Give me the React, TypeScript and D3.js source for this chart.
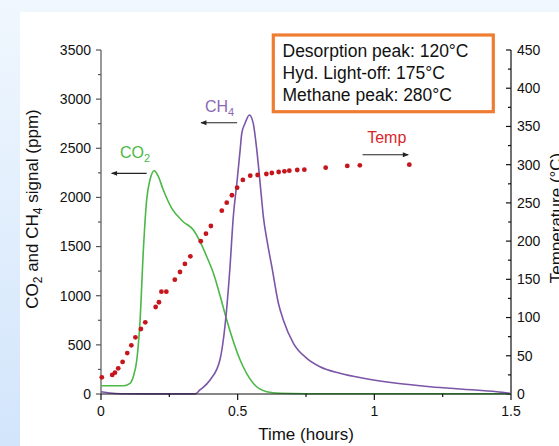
import React from "react";
import * as d3 from "d3";

const W = 559;
const H = 446;

// Time (hours) and CO2 signal (ppm)
const co2Time = [0, 0.082, 0.106, 0.118, 0.131, 0.143, 0.155, 0.167, 0.179, 0.195, 0.21, 0.228, 0.259, 0.301, 0.338, 0.362, 0.387, 0.411, 0.435, 0.46, 0.509, 0.557, 0.606, 0.655, 0.75, 1.0, 1.25, 1.5];
const co2Value = [84, 84, 109, 176, 346, 753, 1465, 1974, 2177, 2272, 2211, 2075, 1889, 1753, 1668, 1552, 1397, 1231, 1007, 753, 346, 109, 23, 7, 3, 2, 2, 2];

// Time (hours) and CH4 signal (ppm)
const ch4Time = [0, 0.033, 0.07, 0.2, 0.344, 0.362, 0.399, 0.435, 0.454, 0.472, 0.484, 0.497, 0.509, 0.515, 0.527, 0.543, 0.557, 0.57, 0.588, 0.594, 0.607, 0.625, 0.649, 0.667, 0.704, 0.753, 0.801, 0.874, 0.96, 1.082, 1.204, 1.326, 1.448, 1.497];
const ch4Value = [23, 10, 3, 1, 1, 41, 142, 346, 702, 1295, 1804, 2144, 2482, 2652, 2754, 2839, 2754, 2482, 1974, 1804, 1567, 1295, 923, 753, 516, 363, 278, 211, 160, 109, 74, 48, 23, 7];

// Time (hours) and temperature (°C)
const tempTime = [0.003, 0.041, 0.051, 0.063, 0.079, 0.096, 0.111, 0.126, 0.146, 0.162, 0.2, 0.212, 0.221, 0.239, 0.27, 0.289, 0.307, 0.327, 0.365, 0.384, 0.402, 0.442, 0.46, 0.479, 0.498, 0.519, 0.546, 0.573, 0.605, 0.625, 0.65, 0.671, 0.689, 0.718, 0.744, 0.822, 0.901, 0.947, 1.128];
const tempValue = [21.8, 24.9, 27.9, 33.6, 41.9, 53.6, 63.7, 74.1, 85, 93.8, 113.8, 120, 133.8, 133.8, 149.5, 159.6, 170.1, 180.1, 199.8, 209.7, 219.8, 239.8, 250.3, 260, 269.9, 280, 285.6, 286.5, 287.8, 289.1, 290.4, 291.3, 292.1, 293, 293.4, 296, 298.3, 299.2, 300];

const xTicks = [0, 0.5, 1, 1.5];
const xTickLabels = ["0", "0.5", "1", "1.5"];
const xMinor = [0.25, 0.75, 1.25];
const yLeftTicks = [0, 500, 1000, 1500, 2000, 2500, 3000, 3500];
const yLeftMinor = [250, 750, 1250, 1750, 2250, 2750, 3250];
const yRightTicks = [0, 50, 100, 150, 200, 250, 300, 350, 400, 450];
const yRightMinor = [25, 75, 125, 175, 225, 275, 325, 375, 425];

const boxLines = ["Desorption peak: 120°C", "Hyd. Light-off: 175°C", "Methane peak: 280°C"];

const FONT = "'Liberation Sans', Arial, sans-serif";
const GREEN = "#4bb847";
const PURPLE = "#7b55a8";
const RED = "#c5161d";

export default function App() {
  const x = d3.scaleLinear().domain([0, 1.5]).range([101, 511]);
  const yL = d3.scaleLinear().domain([0, 3500]).range([394, 50]);
  const yR = d3.scaleLinear().domain([0, 450]).range([394, 50]);

  const lineL = d3
    .line<[number, number]>()
    .x((d) => x(d[0]))
    .y((d) => yL(d[1]))
    .curve(d3.curveMonotoneX);

  const co2Path = lineL(co2Time.map((t, i) => [t, co2Value[i]]) as [number, number][]) || "";
  const ch4Path = lineL(ch4Time.map((t, i) => [t, ch4Value[i]]) as [number, number][]) || "";

  const x0 = x(0);
  const x1 = x(1.5);
  const yb = yL(0);
  const yt = yL(3500);

  return (
    <svg
      width={W}
      height={H}
      style={{ position: "absolute", left: 0, top: 0 }}
      fontFamily={FONT}
    >
      <defs>
        <linearGradient id="bg" x1="0" y1="0" x2="0" y2="1">
          <stop offset="0" stopColor="#f0f7fe" />
          <stop offset="1" stopColor="#d2e5fb" />
        </linearGradient>
        <marker id="arr" viewBox="0 0 10 10" refX="9" refY="5" markerWidth="8" markerHeight="6" markerUnits="userSpaceOnUse" orient="auto">
          <path d="M0,1 L10,5 L0,9 Z" fill="#222" />
        </marker>
      </defs>
      <rect x={0} y={0} width={W} height={H} fill="url(#bg)" />
      <rect x={20} y={12} width={W - 20} height={H - 12} fill="#ffffff" />

      {/* left axis */}
      <line x1={x0} x2={x0} y1={yt} y2={yb} stroke="#555" strokeWidth={1.2} />
      {yLeftTicks.map((v) => (
        <g key={"yl" + v}>
          <line x1={x0 - 5} x2={x0} y1={yL(v)} y2={yL(v)} stroke="#555" strokeWidth={1.2} />
          <text x={x0 - 10} y={yL(v)} dy="0.35em" textAnchor="end" fontSize={14} fill="#111">
            {v}
          </text>
        </g>
      ))}
      {yLeftMinor.map((v) => (
        <line key={"ylm" + v} x1={x0 - 3} x2={x0} y1={yL(v)} y2={yL(v)} stroke="#555" strokeWidth={1.2} />
      ))}

      {/* right axis */}
      <line x1={x1} x2={x1} y1={yt} y2={yb} stroke="#111" strokeWidth={1.2} />
      {yRightTicks.map((v) => (
        <g key={"yr" + v}>
          <line x1={x1 - 5} x2={x1} y1={yR(v)} y2={yR(v)} stroke="#111" strokeWidth={1.2} />
          <text x={x1 + 6} y={yR(v)} dy="0.35em" textAnchor="start" fontSize={14} fill="#111">
            {v}
          </text>
        </g>
      ))}
      {yRightMinor.map((v) => (
        <line key={"yrm" + v} x1={x1 - 3} x2={x1} y1={yR(v)} y2={yR(v)} stroke="#111" strokeWidth={1.2} />
      ))}

      {/* series */}
      <path d={co2Path} fill="none" stroke={GREEN} strokeWidth={1.6} />
      <path d={ch4Path} fill="none" stroke={PURPLE} strokeWidth={1.6} />
      {tempTime.map((t, i) => (
        <circle key={"tp" + i} cx={x(t)} cy={yR(tempValue[i])} r={2.4} fill={RED} />
      ))}

      {/* bottom axis */}
      <line x1={x0} x2={x1} y1={yb} y2={yb} stroke="#111" strokeWidth={1.2} />
      {xTicks.map((v, i) => (
        <g key={"xt" + v}>
          <line x1={x(v)} x2={x(v)} y1={yb} y2={yb + 6} stroke="#111" strokeWidth={1.2} />
          <text x={x(v)} y={yb + 22} textAnchor="middle" fontSize={14} fill="#111">
            {xTickLabels[i]}
          </text>
        </g>
      ))}
      {xMinor.map((v) => (
        <line key={"xm" + v} x1={x(v)} x2={x(v)} y1={yb} y2={yb + 3} stroke="#111" strokeWidth={1.2} />
      ))}

      {/* axis titles */}
      <text x={(x0 + x1) / 2} y={440} textAnchor="middle" fontSize={17} fill="#111">
        Time (hours)
      </text>
      <text transform={`translate(38,209) rotate(-90)`} textAnchor="middle" fontSize={17} fill="#111">
        CO
        <tspan fontSize={12} dy={4}>2</tspan>
        <tspan dy={-4}> and CH</tspan>
        <tspan fontSize={12} dy={4}>4</tspan>
        <tspan dy={-4}> signal (ppm)</tspan>
      </text>
      <text transform={`translate(562,218) rotate(-90)`} textAnchor="middle" fontSize={17} fill="#111">
        Temperature (°C)
      </text>

      {/* annotations */}
      <text x={x(0.0695)} y={yL(2401)} fontSize={16} fill={GREEN}>
        CO<tspan fontSize={11} dy={4}>2</tspan>
      </text>
      <line x1={x(0.167)} x2={x(0.039)} y1={yL(2245)} y2={yL(2245)} stroke="#222" strokeWidth={1.2} markerEnd="url(#arr)" />
      <text x={x(0.3805)} y={yL(2872)} fontSize={16} fill="#8a68b6">
        CH<tspan fontSize={11} dy={4}>4</tspan>
      </text>
      <line x1={x(0.498)} x2={x(0.366)} y1={yL(2760)} y2={yL(2760)} stroke="#222" strokeWidth={1.2} markerEnd="url(#arr)" />
      <text x={x(0.974)} y={yR(328)} fontSize={16} fill="#d9262b">
        Temp
      </text>
      <line x1={x(0.957)} x2={x(1.124)} y1={yR(313)} y2={yR(313)} stroke="#222" strokeWidth={1.2} markerEnd="url(#arr)" />

      {/* info box */}
      <rect x={273.3} y={35} width={220} height={76.7} fill="#ffffff" stroke="#ee7d31" strokeWidth={3.2} />
      {boxLines.map((s, i) => (
        <text key={"bl" + i} x={282.5} y={57.3 + i * 21.7} fontSize={17.5} fill="#111">
          {s}
        </text>
      ))}
    </svg>
  );
}
